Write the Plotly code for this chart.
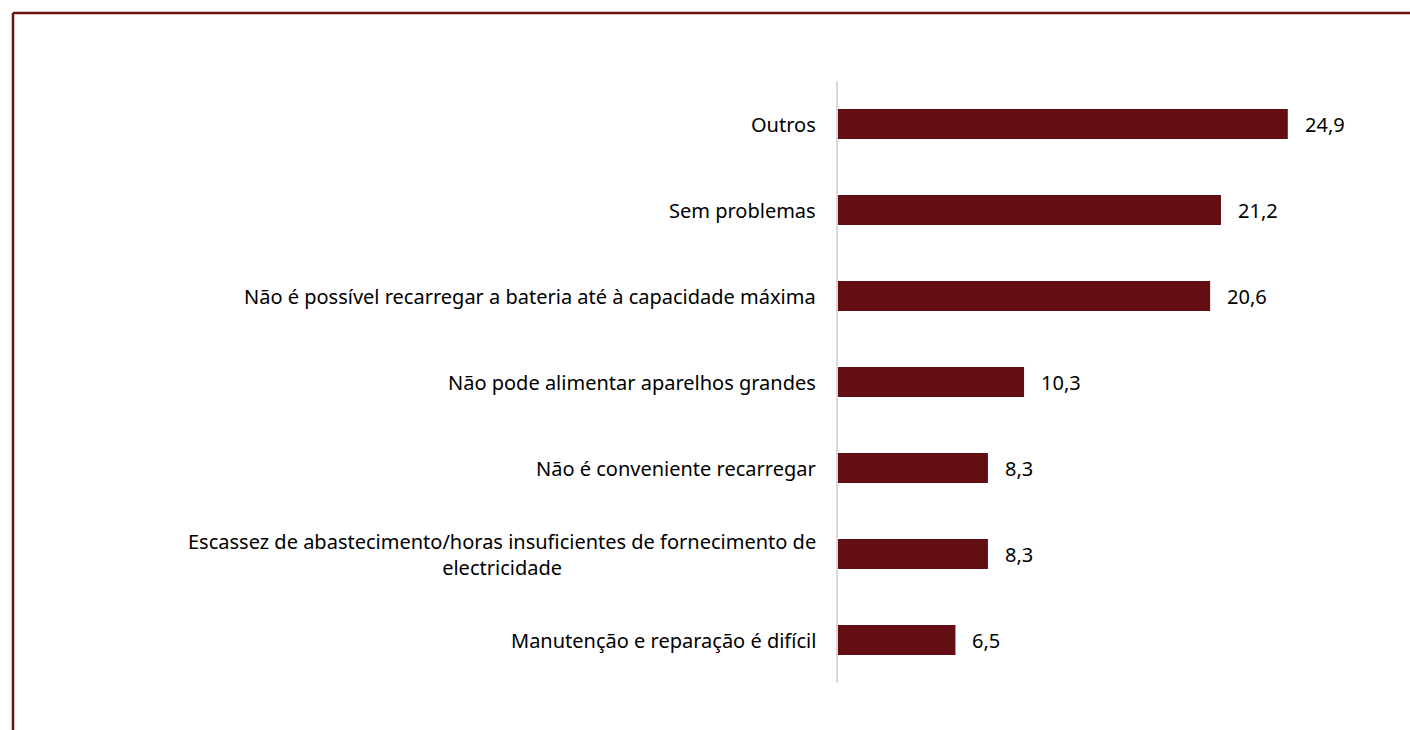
import plotly.graph_objects as go

categories = [
    "Outros",
    "Sem problemas",
    "Não é possível recarregar a bateria até à capacidade máxima",
    "Não pode alimentar aparelhos grandes",
    "Não é conveniente recarregar",
    "Escassez de abastecimento/horas insuficientes de fornecimento de<br>electricidade",
    "Manutenção e reparação é difícil",
]
values = [24.9, 21.2, 20.6, 10.3, 8.3, 8.3, 6.5]

BAR = "#630e12"
FONT = "Noto Sans"
FS = 20

fig = go.Figure(go.Bar(
    x=values, y=categories, orientation="h",
    marker=dict(color=BAR, line=dict(width=0)),
    hoverinfo="skip",
))

annotations = []
for c, v in zip(categories, values):
    annotations.append(dict(
        x=0, xref="paper", y=c, yref="y", text=c, showarrow=False,
        xanchor="right", yanchor="middle", align="center", xshift=-20,
        font=dict(family=FONT, size=FS, color="#000000"),
    ))
    annotations.append(dict(
        x=v, xref="x", y=c, yref="y", text=f"{v:.1f}".replace(".", ","),
        showarrow=False, xanchor="left", yanchor="middle", xshift=15,
        font=dict(family=FONT, size=FS, color="#000000"),
    ))

W, H = 1410, 730
L, R, T, B = 838, 12, 81, 47
pw, ph = W - L - R, H - T - B
bx = (13 - L) / pw
by = (H - B - 13) / ph

fig.update_layout(
    width=W, height=H,
    margin=dict(l=L, r=R, t=T, b=B),
    paper_bgcolor="white", plot_bgcolor="white",
    bargap=0.65,
    showlegend=False,
    annotations=annotations,
    xaxis=dict(range=[0, 31], visible=False, fixedrange=True),
    yaxis=dict(
        autorange="reversed", showticklabels=False, showgrid=False,
        showline=True, linecolor="#d9d9d9", linewidth=2, ticks="",
        zeroline=False, fixedrange=True,
    ),
    shapes=[
        dict(type="line", xref="paper", yref="paper", x0=bx, x1=2, y0=by, y1=by,
             line=dict(color="#6b1414", width=2.5)),
        dict(type="line", xref="paper", yref="paper", x0=bx, x1=bx, y0=by, y1=-1,
             line=dict(color="#6b1414", width=2.5)),
    ],
)

fig.write_html(
    "out.html",
    config={"displayModeBar": False},
    post_script="document.body.style.margin='0';document.body.style.overflow='hidden';",
)
